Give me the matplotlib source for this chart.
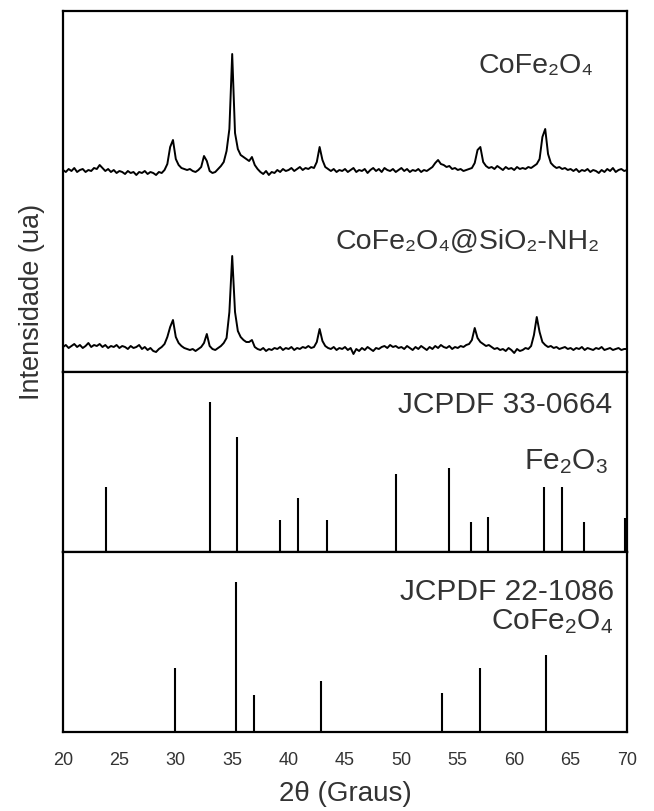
import matplotlib
matplotlib.use('Agg')
import matplotlib.pyplot as plt
import numpy as np

plt.rcParams['font.family'] = ['Liberation Sans', 'DejaVu Sans']
plt.rcParams['mathtext.fontset'] = 'custom'
plt.rcParams['mathtext.rm'] = 'Liberation Sans'
plt.rcParams['mathtext.it'] = 'Liberation Sans:italic'

# eixo 2theta, passo de 0.25 grau
two_theta = np.linspace(20, 70, 201)

# difratograma CoFe2O4 (20 pontos por linha = 5 graus)
cofe2o4 = [
    11, 9, 12, 10, 13, 9, 11, 12, 9, 11, 10, 13, 12, 16, 13, 10, 12, 9, 11, 8,
    10, 9, 7, 10, 8, 9, 6, 9, 8, 10, 7, 9, 8, 6, 9, 8, 11, 17, 34, 41,
    22, 16, 13, 12, 11, 12, 10, 9, 11, 14, 25, 20, 10, 8, 9, 12, 15, 19, 30, 52,
    127, 48, 32, 26, 24, 22, 20, 24, 16, 12, 9, 7, 10, 6, 9, 8, 11, 9, 12, 10,
    11, 13, 10, 12, 14, 11, 13, 12, 14, 13, 19, 34, 21, 14, 12, 10, 12, 9, 11, 10,
    12, 9, 11, 13, 9, 11, 10, 12, 8, 11, 13, 10, 12, 9, 13, 11, 10, 12, 9, 11,
    13, 10, 12, 9, 11, 10, 12, 9, 11, 10, 12, 14, 18, 21, 17, 16, 14, 15, 12, 13,
    11, 12, 10, 11, 12, 13, 18, 31, 34, 19, 15, 13, 14, 12, 15, 13, 11, 14, 12, 13,
    11, 14, 12, 13, 12, 14, 13, 15, 17, 22, 44, 52, 27, 18, 15, 13, 14, 12, 13, 11,
    12, 10, 12, 9, 11, 10, 12, 9, 11, 10, 8, 11, 9, 12, 10, 13, 9, 11, 12, 10,
    11]

# difratograma CoFe2O4@SiO2-NH2
cofe2o4_sio2 = [
    10, 12, 9, 11, 13, 10, 12, 9, 11, 14, 10, 12, 11, 13, 10, 12, 9, 11, 10, 12,
    9, 11, 10, 8, 11, 9, 10, 12, 8, 10, 7, 9, 6, 5, 8, 10, 13, 20, 30, 37,
    20, 14, 11, 9, 8, 7, 8, 6, 8, 10, 14, 23, 11, 8, 7, 9, 11, 14, 19, 45,
    101, 45, 26, 20, 17, 15, 15, 17, 10, 8, 7, 9, 6, 8, 7, 9, 8, 10, 7, 9,
    8, 10, 7, 9, 8, 10, 9, 11, 9, 10, 15, 28, 16, 11, 9, 8, 10, 7, 9, 8,
    10, 7, 9, 3, 8, 6, 9, 7, 10, 8, 6, 9, 8, 10, 11, 9, 12, 10, 11, 9,
    10, 8, 11, 9, 7, 10, 8, 11, 9, 7, 10, 8, 11, 9, 12, 10, 9, 11, 8, 10,
    9, 11, 10, 12, 13, 17, 29, 19, 15, 13, 11, 12, 10, 8, 9, 7, 8, 6, 9, 7,
    4, 8, 6, 7, 9, 8, 11, 22, 40, 25, 15, 12, 10, 11, 9, 10, 8, 9, 10, 8,
    9, 7, 9, 8, 10, 7, 9, 8, 7, 9, 8, 10, 7, 8, 9, 7, 8, 9, 7, 8,
    8]

# padrao JCPDF 33-0664 (Fe2O3)
fe2o3_pos = [23.8, 33.0, 35.4, 39.2, 40.8, 43.4, 49.5, 54.2, 56.2, 57.7, 62.6, 64.2, 66.2, 69.8]
fe2o3_int = [43.5, 100, 76.4, 21.3, 35.8, 21.3, 51.9, 55.9, 20.1, 23.4, 43.5, 43.5, 20.1, 22.4]

# padrao JCPDF 22-1086 (CoFe2O4)
cofe_pos = [29.9, 35.3, 36.9, 42.9, 53.6, 57.0, 62.8]
cofe_int = [42.5, 100, 25.0, 34.1, 26.2, 42.8, 51.5]

xticks = [20, 25, 30, 35, 40, 45, 50, 55, 60, 65, 70]

txt = '#333333'
W, H = 654, 812
fig = plt.figure(figsize=(W / 100, H / 100), dpi=100)

left = 63 / W
width = (627 - 63) / W
ax1 = fig.add_axes([left, (H - 373) / H, width, 361 / H])
ax2 = fig.add_axes([left, (H - 553) / H, width, 180 / H])
ax3 = fig.add_axes([left, (H - 733) / H, width, 180 / H])

for ax in (ax1, ax2, ax3):
    ax.set_xlim(20, 70)
    ax.set_yticks([])
    for s in ax.spines.values():
        s.set_linewidth(1.6)
        s.set_color('black')
    ax.tick_params(axis='x', length=0)

# curvas experimentais
ax1.plot(two_theta, np.array(cofe2o4) + 191, color='black', lw=1.4)
ax1.plot(two_theta, np.array(cofe2o4_sio2) + 15, color='black', lw=1.4)
ax1.set_ylim(0, 361)
ax1.set_xticks([])

ax1.text(0.94, 0.85, 'CoFe₂O₄', transform=ax1.transAxes, ha='right', va='center',
         fontsize=20.5, color=txt)
ax1.text(0.952, 0.363, 'CoFe₂O₄@SiO₂-NH₂', transform=ax1.transAxes, ha='right',
         va='center', fontsize=20.5, color=txt)

# padroes
ax2.vlines(fe2o3_pos, 0, fe2o3_int, color='black', lw=1.5)
ax2.set_ylim(0, 120)
ax2.set_xticks([])
ax2.text(0.973, 0.822, 'JCPDF 33-0664', transform=ax2.transAxes, ha='right',
         va='center', fontsize=21.5, color=txt)
ax2.text(0.966, 0.51, r'Fe$_2$O$_3$', transform=ax2.transAxes, ha='right',
         va='center', fontsize=21.5, color=txt)

ax3.vlines(cofe_pos, 0, cofe_int, color='black', lw=1.5)
ax3.set_ylim(0, 120)
ax3.set_xticks(xticks)
ax3.set_xticklabels([str(t) for t in xticks], fontsize=13, color=txt)
ax3.tick_params(axis='x', pad=14)
ax3.text(0.977, 0.783, 'JCPDF 22-1086', transform=ax3.transAxes, ha='right',
         va='center', fontsize=21.5, color=txt)
ax3.text(0.975, 0.62, r'CoFe$_2$O$_4$', transform=ax3.transAxes, ha='right',
         va='center', fontsize=21.5, color=txt)
ax3.set_xlabel('2θ (Graus)', fontsize=20, color=txt, labelpad=8)

fig.text(32 / W, (H - 302) / H, 'Intensidade (ua)', rotation=90, ha='center',
         va='center', fontsize=19.5, color=txt)

fig.savefig('out.png', dpi=100)
